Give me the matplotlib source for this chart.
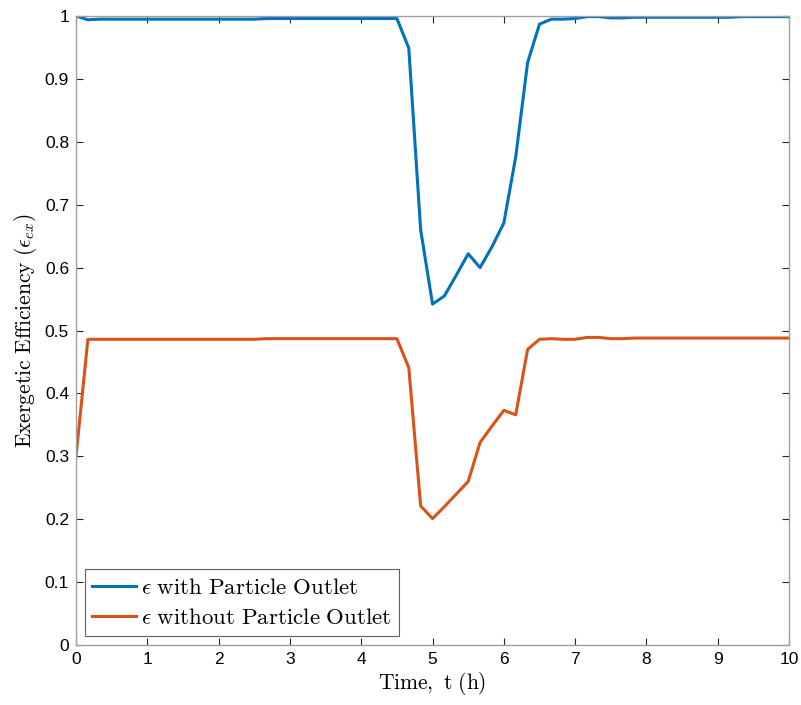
import matplotlib
matplotlib.use('Agg')
import matplotlib.pyplot as plt
import numpy as np

# time grid, 10 minute steps over 10 h
time_h = np.linspace(0, 10, 61)

eff_with_outlet = [
    1.000, 0.994, 0.995, 0.995, 0.995, 0.995, 0.995, 0.995, 0.995, 0.995,
    0.995, 0.995, 0.995, 0.995, 0.995, 0.995, 0.996, 0.996, 0.996, 0.996,
    0.996, 0.996, 0.996, 0.996, 0.996, 0.996, 0.996, 0.996, 0.949, 0.660,
    0.542, 0.555, 0.588, 0.622, 0.600, 0.633, 0.671, 0.776, 0.926, 0.987,
    0.995, 0.995, 0.996, 0.999, 0.999, 0.997, 0.997, 0.998, 0.998, 0.998,
    0.998, 0.998, 0.998, 0.998, 0.998, 0.998, 0.999, 0.999, 0.999, 0.999,
    0.999,
]

eff_without_outlet = [
    0.300, 0.486, 0.486, 0.486, 0.486, 0.486, 0.486, 0.486, 0.486, 0.486,
    0.486, 0.486, 0.486, 0.486, 0.486, 0.486, 0.487, 0.487, 0.487, 0.487,
    0.487, 0.487, 0.487, 0.487, 0.487, 0.487, 0.487, 0.487, 0.441, 0.221,
    0.201, 0.220, 0.240, 0.260, 0.322, 0.348, 0.373, 0.366, 0.470, 0.486,
    0.487, 0.486, 0.486, 0.489, 0.489, 0.487, 0.487, 0.488, 0.488, 0.488,
    0.488, 0.488, 0.488, 0.488, 0.488, 0.488, 0.488, 0.488, 0.488, 0.488,
    0.488,
]

labels = [r'$\epsilon\ \mathrm{with\ Particle\ Outlet}$',
          r'$\epsilon\ \mathrm{without\ Particle\ Outlet}$']

plt.rcParams['mathtext.fontset'] = 'cm'
plt.rcParams['font.family'] = ['Liberation Sans', 'DejaVu Sans']

fig = plt.figure(figsize=(8.01, 7.05), dpi=100)
ax = fig.add_axes([0.0949, 0.0851, 0.8902, 0.8922])

ax.plot(time_h, eff_with_outlet, color='#0072BD', lw=2.2, label=labels[0])
ax.plot(time_h, eff_without_outlet, color='#D95319', lw=2.2, label=labels[1])

ax.set_xlim(0, 10)
ax.set_ylim(0, 1)
ax.set_xticks(np.arange(0, 11, 1))
ax.set_yticks(np.arange(0, 1.01, 0.1))
ax.set_yticklabels(['0'] + [f'{v:.1f}' for v in np.arange(0.1, 0.95, 0.1)] + ['1'])
ax.tick_params(direction='in', top=True, right=True, labelsize=12.5,
               color='#262626', length=5, width=0.8, pad=5)
for s in ax.spines.values():
    s.set_color('#a0a0a0')
    s.set_linewidth(1.0)

ax.set_xlabel(r'$\mathrm{Time,\ t\ (h)}$', fontsize=15.5, labelpad=2)
ax.set_ylabel(r'$\mathrm{Exergetic\ Efficiency}\ (\epsilon_{ex})$', fontsize=15.5, labelpad=4)

leg = ax.legend(loc='lower left', fontsize=16.5, fancybox=False, framealpha=1,
                edgecolor='#606060', borderpad=0.3, handlelength=1.9,
                handletextpad=0.25, labelspacing=0.3, borderaxespad=0.4)
leg.get_frame().set_linewidth(0.8)

fig.savefig('out.png', dpi=100)
